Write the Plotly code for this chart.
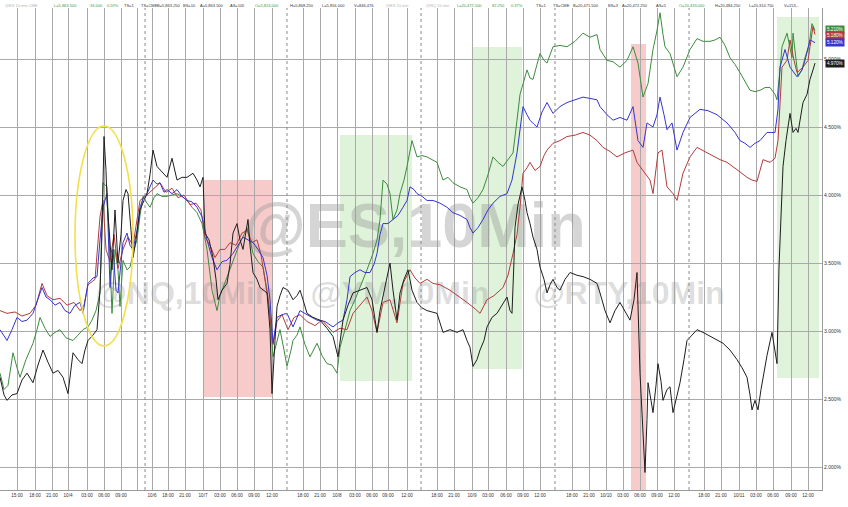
import plotly.graph_objects as go

# ---------------- data (x = bar position, y = % change) ----------------
red_x = [0,7,15,22,30,36,42,47,53,60,67,74,80,84,88,95,100,103,106,110,114,118,123,128,133,140,147,153,160,166,172,178,184,190,196,201,205,210,215,220,225,230,236,242,247,252,257,261,265,269,273,277,282,288,294,300,307,315,322,328,333,340,347,353,360,367,372,377,383,390,397,403,410,415,420,427,433,440,450,458,467,474,480,487,494,503,508,513,517,520,523,527,530,535,540,544,547,553,560,567,575,583,590,597,603,610,617,625,633,637,643,650,653,658,662,667,673,677,683,690,697,707,715,720,727,733,740,747,752,757,763,770,775,778,782,787,790,794,797,803,808,810,813,815]
red_y = [3.15,3.13,3.14,3.11,3.13,3.19,3.35,3.26,3.23,3.24,3.19,3.21,3.15,3.19,3.34,3.38,3.84,3.96,3.60,3.51,3.71,3.46,3.60,3.69,3.63,3.96,4.00,4.04,4.09,4.02,4.05,3.98,4.00,3.93,3.94,3.89,3.69,3.63,3.54,3.60,3.60,3.65,3.63,3.72,3.74,3.65,3.67,3.56,3.38,3.19,2.90,3.07,3.12,3.01,3.10,3.12,3.07,3.04,3.08,3.03,2.99,3.02,3.01,3.13,3.19,3.25,3.15,2.99,3.21,3.23,3.06,3.35,3.45,3.39,3.35,3.38,3.35,3.34,3.30,3.26,3.21,3.17,3.13,3.23,3.26,3.32,3.41,3.57,3.71,3.91,4.16,4.20,4.24,4.18,4.21,4.29,4.33,4.38,4.40,4.43,4.44,4.46,4.44,4.40,4.35,4.32,4.28,4.31,4.33,4.24,4.18,4.11,4.01,4.31,4.33,4.06,4.01,3.96,4.16,4.28,4.35,4.31,4.28,4.26,4.24,4.21,4.17,4.13,4.11,4.10,4.26,4.24,4.27,4.40,4.94,4.99,5.14,4.99,4.90,4.94,4.99,5.09,5.24,5.18]

blue_x = [0,7,12,17,22,27,33,38,42,46,50,55,60,65,70,75,80,83,88,93,97,100,103,107,110,113,116,118,121,123,127,130,133,137,140,144,147,153,157,160,164,167,172,177,182,187,192,197,202,207,212,217,222,227,233,238,243,248,253,258,263,267,270,273,277,282,287,293,300,307,317,325,333,338,343,347,350,355,360,365,370,374,377,380,383,388,393,398,403,407,410,414,417,422,427,433,440,447,453,460,467,470,473,478,483,488,493,500,507,512,517,520,523,527,530,534,537,542,547,553,560,567,575,583,590,597,600,607,613,620,627,633,638,643,647,653,657,660,664,667,672,677,683,690,700,708,717,727,735,740,745,750,755,760,767,775,778,780,785,790,797,802,805,810,815]
blue_y = [3.01,2.93,3.01,3.10,3.07,3.08,3.13,3.23,3.32,3.25,3.23,3.19,3.21,3.15,3.13,3.19,3.21,3.13,3.35,3.39,3.40,3.67,3.91,4.01,3.32,3.60,3.30,3.28,3.52,3.65,3.72,3.63,3.60,3.74,3.91,3.99,4.01,4.11,4.08,4.09,4.02,4.04,4.01,4.04,3.99,3.96,3.95,3.91,3.84,3.67,3.54,3.45,3.51,3.52,3.57,3.63,3.69,3.67,3.65,3.60,3.54,3.41,3.23,2.91,3.10,3.12,3.13,3.03,3.15,3.12,3.08,3.07,3.03,3.06,3.08,3.23,3.40,3.43,3.45,3.43,3.43,3.49,3.57,3.71,3.79,3.79,3.82,3.85,3.91,3.96,4.06,4.04,4.01,3.99,3.96,3.96,3.94,3.91,3.87,3.85,3.82,3.76,3.72,3.76,3.82,3.89,3.94,3.99,4.01,4.11,4.31,4.48,4.65,4.59,4.55,4.52,4.50,4.61,4.68,4.60,4.65,4.68,4.70,4.72,4.71,4.70,4.65,4.59,4.55,4.57,4.55,4.65,4.40,4.35,4.53,4.50,4.59,4.72,4.59,4.48,4.53,4.33,4.46,4.57,4.63,4.62,4.59,4.53,4.46,4.40,4.38,4.35,4.38,4.40,4.46,4.46,4.63,4.94,5.07,4.94,4.87,4.92,4.99,5.14,5.12]

green_x = [0,4,8,13,17,20,26,33,37,40,45,50,55,60,66,73,78,83,88,92,96,100,103,107,110,112,115,118,120,123,127,130,134,137,140,143,147,150,154,157,162,167,172,177,182,187,192,197,202,207,212,217,220,223,228,233,237,240,244,247,250,253,258,263,267,270,273,277,280,284,287,291,293,297,300,305,310,317,322,327,332,337,340,345,350,355,360,367,373,377,380,383,387,390,393,397,400,404,407,410,412,417,422,427,432,437,443,448,453,460,467,470,473,478,483,488,493,498,503,508,513,517,520,522,527,530,533,537,540,544,547,550,553,560,567,575,583,590,597,600,607,613,620,627,633,638,643,648,653,657,660,663,665,670,677,683,690,697,703,710,715,720,725,730,735,740,745,750,755,760,765,770,775,777,780,782,787,790,792,793,796,798,802,805,809,812,815]
green_y = [2.69,2.57,2.60,2.84,2.73,2.66,2.79,2.91,3.01,3.10,3.02,2.96,2.99,3.01,2.95,2.93,2.97,3.01,3.03,3.08,3.15,3.28,4.09,4.06,3.52,3.13,3.60,3.45,3.18,3.52,3.45,3.47,3.60,3.67,3.85,3.99,3.94,3.91,3.98,4.01,3.99,3.99,4.00,4.01,3.99,3.96,3.91,3.87,3.79,3.60,3.30,3.15,3.26,3.32,3.41,3.52,3.60,3.65,3.71,3.76,3.67,3.57,3.51,3.47,3.30,3.10,2.81,2.93,3.01,2.86,2.74,2.86,2.93,2.97,3.03,2.90,2.81,2.91,2.82,2.76,2.75,2.69,2.88,3.01,3.15,3.23,3.32,3.45,3.57,3.67,3.82,4.11,4.08,4.01,3.82,3.89,4.01,4.11,4.21,4.33,4.40,4.28,4.29,4.28,4.26,4.24,4.11,4.13,4.09,4.06,4.04,3.98,3.94,3.98,4.04,4.15,4.28,4.24,4.21,4.26,4.31,4.55,4.74,4.79,4.92,4.86,4.85,4.96,5.04,4.99,4.97,5.03,5.09,5.10,5.09,5.13,5.19,5.16,5.18,5.07,4.99,4.98,4.94,4.99,5.09,4.97,4.72,4.82,5.07,5.21,5.34,5.18,5.09,5.04,4.87,4.94,5.07,5.15,5.13,5.13,5.14,5.16,5.10,5.01,4.96,4.90,4.84,4.77,4.76,4.77,4.79,4.79,4.74,4.70,4.92,5.09,5.19,5.07,5.01,5.19,4.99,4.87,4.92,5.01,5.10,5.26,5.21]

black_x = [0,4,7,12,17,22,27,30,33,38,43,48,53,58,63,68,71,73,78,82,85,88,93,97,100,102,104,106,107,110,112,115,118,121,123,126,128,131,133,136,140,144,147,150,153,157,162,167,172,175,177,182,187,193,197,200,203,205,209,213,216,218,222,227,230,233,237,240,243,248,250,253,257,260,264,267,270,272,275,277,280,283,288,293,297,300,303,307,313,320,327,333,338,343,348,353,360,367,372,377,380,383,387,390,393,397,400,404,408,412,417,422,427,432,437,443,450,457,463,467,470,473,477,480,484,487,492,497,502,507,510,512,514,515,518,522,525,527,530,533,537,540,544,547,550,553,557,560,565,570,577,583,590,597,600,605,610,615,620,625,630,634,637,640,643,645,647,648,651,653,656,658,661,663,667,670,673,677,680,684,687,692,697,703,710,717,723,730,737,742,747,750,752,755,758,761,763,767,772,775,777,779,781,783,786,790,793,796,798,801,803,807,810,813,815]
black_y = [2.66,2.53,2.49,2.53,2.54,2.64,2.69,2.65,2.62,2.75,2.86,2.77,2.69,2.71,2.66,2.54,2.71,2.84,2.79,2.76,2.86,2.93,2.97,3.01,3.30,3.72,4.43,4.18,3.96,3.60,3.45,3.89,3.50,3.71,3.96,4.04,4.01,3.74,3.54,3.67,3.89,3.96,4.01,4.15,4.33,4.21,4.17,4.13,4.27,4.17,4.11,4.13,4.13,4.16,4.11,4.06,4.13,3.72,3.67,3.54,3.38,3.23,3.30,3.35,3.49,3.72,3.79,3.67,3.60,3.82,3.63,3.43,3.38,3.32,3.30,3.28,3.01,2.54,2.93,3.18,3.26,3.32,3.30,3.23,3.26,3.30,3.23,3.13,3.10,3.08,3.02,2.96,2.81,3.08,3.19,3.28,3.30,3.32,3.23,2.99,3.15,3.25,3.38,3.50,3.30,3.08,3.28,3.38,3.45,3.30,3.21,3.17,3.15,3.14,3.13,2.99,3.01,2.99,3.01,2.93,2.88,2.74,2.79,2.86,2.93,3.03,3.10,3.13,3.19,3.25,3.15,3.13,3.52,3.76,3.93,4.06,3.96,3.87,3.79,3.69,3.60,3.47,3.38,3.28,3.34,3.38,3.32,3.30,3.38,3.43,3.41,3.40,3.38,3.35,3.28,3.15,3.06,3.15,3.21,3.15,3.08,3.23,3.43,2.69,2.27,1.96,2.35,2.62,2.49,2.40,2.60,2.76,2.63,2.49,2.57,2.59,2.40,2.53,2.62,2.79,2.93,2.97,3.01,2.99,2.96,2.93,2.91,2.86,2.79,2.73,2.66,2.53,2.42,2.49,2.42,2.57,2.66,2.82,2.99,2.86,2.76,3.47,3.89,4.21,4.40,4.60,4.46,4.49,4.46,4.59,4.68,4.74,4.85,4.92,4.97]

# axis ticks
grid_x = [17,35,52,68,87,104,121,137,152,168,185,203,220,237,254,272,303,320,337,355,372,388,407,
          437,454,472,488,506,523,540,572,589,606,623,640,657,674,704,721,739,756,773,791,808]
grid_labels = ["15:00","18:00","21:00","10/4","03:00","06:00","09:00","",
               "10/6","18:00","21:00","10/7","03:00","06:00","09:00","12:00",
               "18:00","21:00","10/8","03:00","06:00","09:00","12:00",
               "18:00","21:00","10/9","03:00","06:00","09:00","12:00",
               "18:00","21:00","10/10","03:00","06:00","09:00","12:00",
               "18:00","21:00","10/11","03:00","06:00","09:00","12:00"]
session_breaks = [145, 287, 421, 555, 689]
y_ticks = [2.0, 2.5, 3.0, 3.5, 4.0, 4.5, 5.0]
y_labels = ["2.000%", "2.500%", "3.000%", "3.500%", "4.000%", "4.500%", "5.000%"]

# highlight boxes: (x0, x1, y0, y1, kind)
boxes = [(203, 273, 2.515, 4.11, "red"),
         (340, 412, 2.632, 4.441, "green"),
         (473, 522, 2.72, 5.088, "green"),
         (631, 646, 1.80, 5.11, "red"),
         (777, 819, 2.654, 5.309, "green")]
ellipse = (75, 133, 2.89, 4.507)

# header tokens: (text, x position, colour-kind)
header_tokens = [("@ES 10 min CME", 3, "faint"), ("L=5,863.500", 52, "green"), ("34.500", 88, "green"),
                 ("0.59%", 105, "green"), ("TS=1", 122, "dark"), ("TS=CME", 139, "dark"),
                 ("B=5,863.250", 155, "dark"), ("BS=10", 181, "dark"), ("A=5,863.500", 198, "dark"),
                 ("AS=105", 228, "dark"), ("O=5,824.000", 253, "green"), ("H=5,868.250", 288, "dark"),
                 ("L=5,816.000", 320, "dark"), ("V=846,476", 352, "dark"), ("@ES 10 min", 384, "faint"),
                 ("@NQ 10 min", 424, "faint"), ("L=20,472.500", 455, "green"), ("82.250", 490, "green"),
                 ("0.37%", 509, "green"), ("TS=1", 534, "dark"), ("TS=CME", 551, "dark"),
                 ("B=20,471.500", 571, "dark"), ("BS=3", 606, "dark"), ("A=20,472.250", 620, "dark"),
                 ("AS=5", 654, "dark"), ("O=20,433.000", 677, "green"), ("H=20,484.250", 713, "dark"),
                 ("L=20,314.750", 747, "dark"), ("V=153,..", 782, "dark")]

# ---------------- figure ----------------
C_GREEN = "#3d8b3d"
C_RED = "#b23c3c"
C_BLUE = "#3535d0"
C_BLACK = "#1e1e1e"
FONT = "Liberation Sans, Arial, sans-serif"

fig = go.Figure()

# watermark text (under lines)
fig.add_trace(go.Scatter(x=[415], y=[3.73], mode="text", text=["@ES,10Min"],
                         textfont=dict(size=63, color="rgba(150,150,150,0.40)", family=FONT, weight="bold"),
                         hoverinfo="skip", showlegend=False))
fig.add_trace(go.Scatter(x=[185, 400, 629], y=[3.26, 3.26, 3.26], mode="text",
                         text=["@NQ,10Min", "@YM,10Min", "@RTY,10Min"],
                         textfont=dict(size=32, color="rgba(150,150,150,0.33)", family=FONT, weight="bold"),
                         hoverinfo="skip", showlegend=False))

for xs, ys, col, name in [(green_x, green_y, C_GREEN, "@NQ"), (red_x, red_y, C_RED, "@YM"),
                          (blue_x, blue_y, C_BLUE, "@ES"), (black_x, black_y, C_BLACK, "@RTY")]:
    fig.add_trace(go.Scatter(x=xs, y=ys, mode="lines", name=name,
                             line=dict(color=col, width=1.0), showlegend=False))

shapes = []
for x0, x1, y0, y1, kind in boxes:
    fill = "rgba(242,160,160,0.55)" if kind == "red" else "rgba(190,232,180,0.5)"
    shapes.append(dict(type="rect", xref="x", yref="y", x0=x0, x1=x1, y0=y0, y1=y1,
                       fillcolor=fill, line=dict(width=0), layer="below"))
shapes.append(dict(type="circle", xref="x", yref="y", x0=ellipse[0], x1=ellipse[1],
                   y0=ellipse[2], y1=ellipse[3], line=dict(color="#f3e04a", width=1.6)))
for sx in session_breaks:
    shapes.append(dict(type="line", xref="x", yref="paper", x0=sx, x1=sx, y0=0, y1=1,
                       line=dict(color="#8a8a8a", width=1, dash="dot")))

annotations = []
colmap = {"faint": "#b5b5b5", "green": "#3c9a3c", "dark": "#333333"}
for txt, xp, kind in header_tokens:
    annotations.append(dict(text=txt, x=xp, y=1.0062, xref="x", yref="paper", xanchor="left",
                            yanchor="middle", showarrow=False,
                            font=dict(size=4.0, color=colmap[kind], family=FONT)))

# last value tags
for ys, col, shift in [(green_y, C_GREEN, 1), (red_y, C_RED, -1), (blue_y, C_BLUE, 0), (black_y, C_BLACK, 0)]:
    v = ys[-1]
    annotations.append(dict(text=f"{v:.3f}%", x=1, xref="paper", y=v, yref="y", xanchor="left",
                            yanchor="middle", xshift=3, yshift=shift, showarrow=False,
                            bgcolor=col, borderpad=1,
                            font=dict(size=4.6, color="white", family=FONT)))

fig.update_layout(
    width=848, height=507,
    margin=dict(l=0, r=26, t=8, b=17),
    paper_bgcolor="white", plot_bgcolor="white",
    shapes=shapes, annotations=annotations,
    xaxis=dict(range=[0, 822], tickvals=grid_x, ticktext=grid_labels, showgrid=True,
               gridcolor="#a9a9a9", gridwidth=1, zeroline=False, showline=True,
               linecolor="#9a9a9a", ticks="", tickfont=dict(size=4.6, color="#333", family=FONT)),
    yaxis=dict(range=[1.831, 5.375], side="right", tickvals=y_ticks, ticktext=y_labels,
               showgrid=True, gridcolor="#a9a9a9", gridwidth=1, zeroline=False, showline=True,
               linecolor="#9a9a9a", ticks="", tickfont=dict(size=5, color="#333", family=FONT)),
    showlegend=False,
)

fig.write_html("out.html", config={"displayModeBar": False},
               post_script="document.body.style.margin='0px';document.body.style.overflow='hidden';")
